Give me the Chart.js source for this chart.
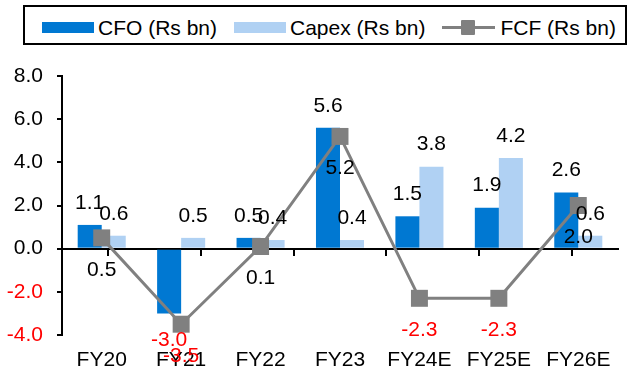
<!DOCTYPE html>
<html>
<head>
<meta charset="utf-8">
<script src="https://cdn.jsdelivr.net/npm/chart.js@4.4.1/dist/chart.umd.min.js"></script>
<style>
  html, body { margin: 0; padding: 0; background: #fff; }
  #wrap { position: relative; width: 630px; height: 373px; }
  #wrap canvas { position: absolute; left: 0; top: 0; }
  #legend {
    position: absolute; left: 23px; top: 5px; width: 604px; height: 40px;
    box-sizing: border-box; border: 2px solid #000; background: #fff;
    display: flex; align-items: center; padding: 5px 0 0 17px;
    font: 21px "Liberation Sans", Arial, sans-serif; color: #000; white-space: nowrap;
  }
  .item { display: flex; align-items: center; }
  .swatch { width: 52px; height: 11px; margin-right: 4px; }
  .lineKey { position: relative; width: 53px; height: 15px; margin-right: 5px; }
  .lineKey .stroke { position: absolute; left: 0; right: 0; top: 6px; height: 3px; }
  .lineKey .mark { position: absolute; left: 19px; top: 0; width: 14px; height: 15px; border-radius: 1px; }
  .label { margin-right: 17px; }
</style>
</head>
<body>
<div id="wrap">
  <canvas id="chart" width="630" height="373"></canvas>
  <div id="legend"></div>
</div>
<script>
// Cash flow summary, Rs bn
const categories = ['FY20', 'FY21', 'FY22', 'FY23', 'FY24E', 'FY25E', 'FY26E'];
const cfo   = [1.1, -3.0, 0.5, 5.6, 1.5, 1.9, 2.6];
const capex = [0.6, 0.5, 0.4, 0.4, 3.8, 4.2, 0.6];
const fcf   = [0.5, -3.5, 0.1, 5.2, -2.3, -2.3, 2.0];
const seriesNames = ['CFO (Rs bn)', 'Capex (Rs bn)', 'FCF (Rs bn)'];
const yTickValues = [-4, -2, 0, 2, 4, 6, 8];

const FONT = '"Liberation Sans", Arial, sans-serif';
const CFO_BLUE = '#0078D2';
const CAPEX_BLUE = '#B0D1F3';
const FCF_GREY = '#808080';
const NEG_RED = '#FF0000';

// Value labels above/below bars and below the FCF markers
const valueLabels = {
  id: 'valueLabels',
  afterDatasetsDraw(chart) {
    const ctx = chart.ctx;
    ctx.save();
    ctx.font = '21px ' + FONT;
    ctx.textAlign = 'center';
    ctx.textBaseline = 'middle';
    chart.data.datasets.forEach((ds, i) => {
      const meta = chart.getDatasetMeta(i);
      if (meta.hidden) return;
      meta.data.forEach((el, j) => {
        const v = ds.data[j];
        let y;
        if (meta.type === 'bar') y = v >= 0 ? el.y - 22 : el.y + 27;
        else y = el.y + 32;
        ctx.fillStyle = v < 0 ? NEG_RED : '#000';
        ctx.fillText(v.toFixed(1), el.x, y);
      });
    });
    ctx.restore();
  }
};

const chart = new Chart(document.getElementById('chart'), {
  data: {
    labels: categories,
    datasets: [
      { type: 'bar', label: seriesNames[0], data: cfo, backgroundColor: CFO_BLUE, order: 1,
        categoryPercentage: 0.605, barPercentage: 1.0 },
      { type: 'bar', label: seriesNames[1], data: capex, backgroundColor: CAPEX_BLUE, order: 1,
        categoryPercentage: 0.605, barPercentage: 1.0 },
      { type: 'line', label: seriesNames[2], data: fcf, order: 0,
        borderColor: FCF_GREY, borderWidth: 3, tension: 0,
        pointStyle: 'rect', pointRadius: 12, pointBackgroundColor: FCF_GREY,
        pointBorderWidth: 0 }
    ]
  },
  options: {
    responsive: false,
    animation: false,
    events: [],
    devicePixelRatio: 1,
    layout: { padding: { top: 76, right: 1, bottom: 0, left: 0 } },
    plugins: { legend: { display: false }, tooltip: { enabled: false } },
    scales: {
      x: {
        type: 'category',
        position: 'bottom',
        grid: { display: false, drawTicks: false },
        border: { display: false },
        afterFit(scale) { scale.height = 38; },
        ticks: { color: '#000', font: { family: FONT, size: 21 }, padding: 13, maxRotation: 0, autoSkip: false }
      },
      // zero line with category-boundary tick marks
      xZero: {
        type: 'category',
        position: { y: 0 },
        afterFit(scale) { scale.height = 0; },
        grid: { display: true, drawOnChartArea: false, drawTicks: true, tickLength: 6,
                color: '#000', lineWidth: 2, offset: true },
        border: { display: true, color: '#000', width: 2 },
        ticks: { display: false }
      },
      y: {
        min: yTickValues[0],
        max: yTickValues[yTickValues.length - 1],
        afterBuildTicks(scale) { scale.ticks = yTickValues.map(v => ({ value: v })); },
        afterFit(scale) { scale.width = 62; },
        grid: { display: true, drawOnChartArea: false, drawTicks: true, tickLength: 5,
                color: '#000', lineWidth: 2 },
        border: { display: true, color: '#000', width: 2 },
        ticks: {
          padding: 14,
          font: { family: FONT, size: 21 },
          color: c => (c.tick && c.tick.value < 0 ? NEG_RED : '#000'),
          callback: v => Number(v).toFixed(1)
        }
      }
    }
  },
  plugins: [valueLabels]
});

// Boxed legend built from the chart's datasets
const legendEl = document.getElementById('legend');
chart.data.datasets.forEach(ds => {
  const item = document.createElement('div');
  item.className = 'item';
  if (ds.type === 'line') {
    const key = document.createElement('div');
    key.className = 'lineKey';
    const stroke = document.createElement('div');
    stroke.className = 'stroke';
    stroke.style.background = ds.borderColor;
    const mark = document.createElement('div');
    mark.className = 'mark';
    mark.style.background = ds.pointBackgroundColor;
    key.appendChild(stroke);
    key.appendChild(mark);
    item.appendChild(key);
  } else {
    const sw = document.createElement('div');
    sw.className = 'swatch';
    sw.style.background = ds.backgroundColor;
    item.appendChild(sw);
  }
  const text = document.createElement('span');
  text.className = 'label';
  text.textContent = ds.label;
  item.appendChild(text);
  legendEl.appendChild(item);
});
</script>
</body>
</html>
